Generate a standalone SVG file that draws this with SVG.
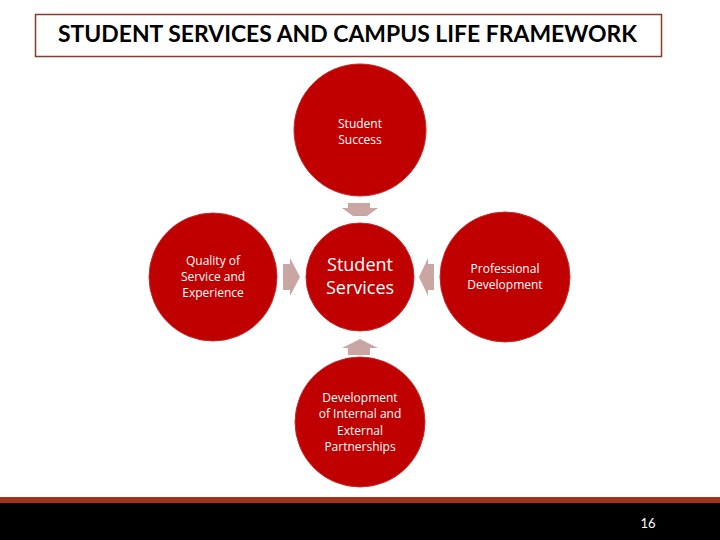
<svg xmlns="http://www.w3.org/2000/svg" width="720" height="540" viewBox="0 0 720 540">
<style>
.c{fill:#c00000;stroke:#c62a2a;stroke-width:1}
.t{fill:#ffffff;font-family:"Open Sans","Liberation Sans",sans-serif;font-size:12px;text-anchor:middle}
.big{font-size:18px}
.a{fill:#c9a6a4}
</style>
<rect x="0" y="0" width="720" height="540" fill="#ffffff"/>
<g id="title">
<rect x="35.5" y="14.5" width="626" height="42" fill="#ffffff" stroke="#8b3a2a" stroke-width="1.5"/>
<text x="347.5" y="42" font-family="Lato,'Liberation Sans',sans-serif" font-weight="bold" font-size="22" text-anchor="middle" fill="#000000" textLength="579" lengthAdjust="spacingAndGlyphs">STUDENT SERVICES AND CAMPUS LIFE FRAMEWORK</text>
</g>
<g id="connectors">
<polygon class="a" points="348,203 370,203 370,208 378,208 367,216 353,216 342,208 348,208"/>
<polygon class="a" points="348,355 370,355 370,348 378,348 360,339 342,348 348,348"/>
<polygon class="a" points="283,264 290,264 290,258 300,277 290,296 290,290 283,290"/>
<polygon class="a" points="434,264 428,264 428,258 419,277 428,296 428,290 434,290"/>
</g>
<g id="student-success">
<circle class="c" cx="360" cy="130" r="66"/>
<text class="t" x="360" y="128">Student</text>
<text class="t" x="360" y="144">Success</text>
</g>
<g id="student-services">
<circle class="c" cx="360" cy="277" r="54"/>
<text class="t big" x="360" y="271">Student</text>
<text class="t big" x="360" y="294">Services</text>
</g>
<g id="quality">
<circle class="c" cx="213" cy="277" r="64"/>
<text class="t" x="213" y="265">Quality of</text>
<text class="t" x="213" y="281">Service and</text>
<text class="t" x="213" y="297">Experience</text>
</g>
<g id="professional">
<circle class="c" cx="505" cy="277" r="65"/>
<text class="t" x="505" y="273">Professional</text>
<text class="t" x="505" y="289">Development</text>
</g>
<g id="partnerships">
<circle class="c" cx="360" cy="422" r="65"/>
<text class="t" x="360" y="402">Development</text>
<text class="t" x="360" y="418">of Internal and</text>
<text class="t" x="360" y="435">External</text>
<text class="t" x="360" y="451">Partnerships</text>
</g>
<g id="footer">
<rect x="0" y="497" width="720" height="6" fill="#a0331a"/>
<rect x="0" y="503" width="720" height="37" fill="#000000"/>
<text x="648" y="528" font-family="Lato,'Liberation Sans',sans-serif" font-size="13" fill="#ffffff" text-anchor="middle">16</text>
</g>
</svg>
